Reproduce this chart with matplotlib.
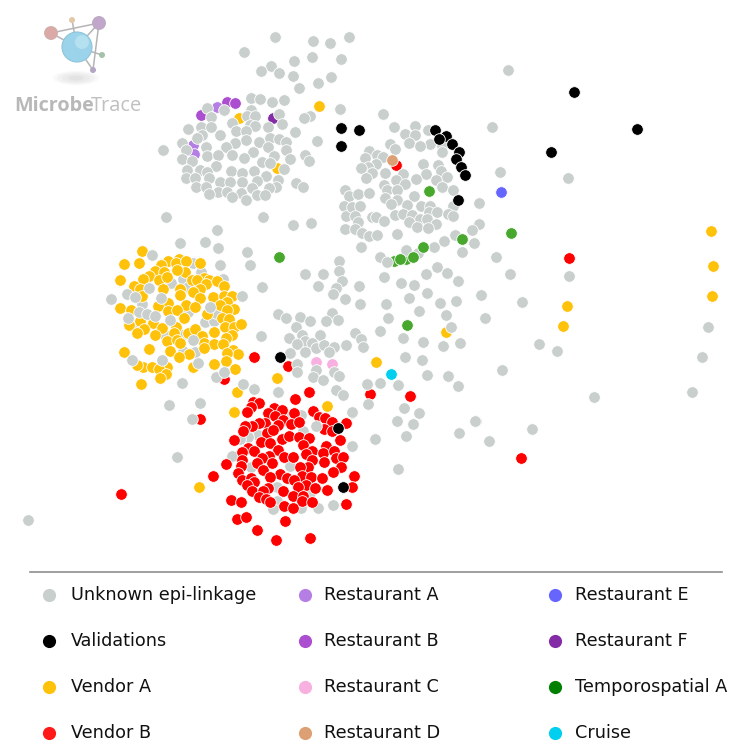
import matplotlib
matplotlib.use("Agg")
import matplotlib.pyplot as plt
from matplotlib.patches import Circle, Ellipse
import numpy as np

# node positions
unknown_under = [
  (183, 351), (195, 352), (188, 312), (165, 335), (182, 335), (193, 263), (201, 272),
  (223, 279), (183, 279), (171, 283), (188, 287), (205, 322), (214, 321), (216, 313), (142, 304),
  (135, 326), (303, 431), (301, 415), (290, 415), (258, 435), (248, 437), (240, 439), (251, 467),
  (277, 487), (310, 493), (277, 501), (273, 509), (301, 508), (318, 508), (333, 505), (232, 456),
  (290, 466),
]
unknown = [
  (275, 37), (313, 41), (330, 43), (349, 37), (244, 52), (312, 57), (341, 59), (294, 61), (271, 66),
  (261, 71), (279, 73), (293, 76), (331, 77), (318, 83), (299, 88), (251, 98), (260, 99), (272, 102),
  (284, 100), (207, 108), (224, 110), (251, 110), (340, 109), (279, 114), (211, 117), (247, 116),
  (255, 116), (310, 116), (304, 118), (232, 123), (282, 124), (250, 125), (255, 126), (268, 127),
  (201, 127), (211, 127), (188, 129), (236, 131), (246, 131), (295, 132), (220, 135), (202, 135),
  (197, 138), (270, 138), (279, 139), (246, 140), (317, 141), (286, 142), (182, 143), (235, 143),
  (259, 142), (163, 150), (186, 150), (206, 147), (226, 147), (268, 147), (286, 150), (253, 152),
  (305, 155), (207, 156), (218, 155), (232, 155), (244, 158), (274, 156), (290, 159), (182, 159),
  (192, 161), (309, 161), (262, 162), (270, 163), (216, 166), (284, 169), (187, 170), (200, 170),
  (207, 172), (231, 171), (242, 173), (254, 171), (266, 176), (186, 178), (195, 178), (209, 178),
  (257, 181), (278, 180), (220, 182), (230, 182), (242, 182), (296, 183), (196, 187), (206, 187),
  (303, 187), (252, 188), (276, 187), (269, 188), (345, 190), (218, 192), (227, 192), (241, 193),
  (209, 194), (257, 195), (265, 195), (232, 197), (246, 200), (349, 196), (344, 206), (166, 217),
  (263, 217), (346, 216), (293, 225), (311, 223),
  (383, 114), (394, 127), (415, 126), (405, 134), (415, 135), (428, 130), (492, 127), (409, 143),
  (390, 144), (430, 144), (420, 146), (395, 149), (442, 146), (442, 152), (369, 151), (365, 158),
  (377, 155), (383, 157), (376, 164), (368, 167), (361, 168), (385, 173), (372, 173), (366, 178),
  (423, 164), (438, 165), (441, 171), (426, 174), (403, 174), (447, 177), (396, 180), (436, 180),
  (416, 179), (500, 172), (405, 184), (384, 185), (442, 187), (453, 190), (387, 190), (397, 190),
  (358, 194), (369, 193), (385, 198), (414, 196), (397, 200), (391, 204), (479, 203), (352, 207),
  (360, 206), (407, 205), (421, 206), (430, 206), (453, 206), (429, 212), (437, 212), (355, 216),
  (372, 217), (376, 217), (395, 215), (403, 214), (412, 215), (448, 214), (453, 216), (420, 219),
  (427, 219), (358, 222), (384, 221), (409, 222), (345, 229), (436, 224), (417, 227), (428, 228),
  (479, 224), (355, 229), (362, 233), (369, 236), (377, 235), (397, 234), (472, 230), (455, 235),
  (444, 241), (474, 243), (434, 247), (361, 247), (496, 257), (462, 252), (406, 250), (380, 257),
  (387, 262), (418, 253), (339, 261), (339, 271), (323, 274), (305, 274), (437, 267), (426, 274),
  (447, 273), (510, 274), (384, 277), (458, 281), (342, 281), (401, 283), (414, 285), (359, 286),
  (336, 288), (333, 294), (427, 293), (409, 298), (481, 295), (345, 299), (440, 303), (456, 301),
  (360, 304), (386, 304), (522, 302), (419, 311), (318, 286), (262, 287), (508, 70), (568, 178),
  (569, 276), (708, 327), (702, 357), (692, 392), (485, 318), (446, 315), (451, 327), (460, 343),
  (443, 346), (539, 344), (557, 351), (502, 370), (448, 376), (458, 386), (594, 397), (476, 421),
  (459, 433), (532, 429), (489, 441), (332, 313), (278, 314), (286, 318), (300, 317), (310, 321),
  (326, 321), (338, 320), (388, 318), (296, 327), (380, 331), (302, 335), (320, 335), (355, 333),
  (361, 339), (403, 338), (289, 338), (305, 341), (312, 343), (297, 344), (316, 348), (324, 345),
  (334, 347), (329, 352), (346, 345), (363, 347), (423, 342), (290, 353), (305, 352), (405, 357),
  (422, 360), (427, 375), (297, 364), (297, 372), (316, 370), (334, 372), (339, 376), (313, 377),
  (323, 380), (254, 389), (367, 384), (380, 383), (398, 385), (278, 392), (336, 390), (343, 395),
  (368, 404), (404, 408), (352, 413), (419, 413), (397, 421), (413, 424), (406, 436), (375, 439),
  (352, 446), (398, 469), (475, 421), (28, 520), (180, 243), (205, 242), (218, 248), (217, 230),
  (247, 252), (220, 265), (250, 265), (152, 255), (242, 296), (111, 299), (261, 336), (182, 383),
  (216, 377), (224, 372), (243, 384), (132, 360), (162, 360), (198, 363), (149, 288), (127, 294),
  (135, 297), (161, 298), (139, 312), (147, 314), (155, 316), (128, 318), (170, 320), (210, 307),
  (193, 340), (169, 405), (200, 403), (192, 419), (177, 457), (316, 426), (352, 412),
]
vendor_a = [
  (142, 251), (124, 264), (139, 263), (120, 280), (168, 261), (179, 259), (161, 265), (176, 263),
  (186, 261), (200, 263), (155, 271), (185, 272), (177, 270), (164, 272), (149, 276), (159, 280),
  (167, 277), (143, 279), (134, 286), (192, 280), (204, 278), (209, 280), (197, 280), (206, 284),
  (217, 281), (224, 286), (163, 289), (180, 289), (200, 289), (193, 292), (140, 289), (142, 296),
  (180, 295), (200, 298), (213, 297), (224, 296), (232, 296), (227, 302), (220, 305), (234, 309),
  (227, 310), (168, 303), (158, 306), (186, 305), (195, 307), (120, 308), (131, 310), (168, 311),
  (177, 310), (207, 314), (184, 318), (222, 318), (229, 319), (140, 321), (129, 325), (153, 323),
  (144, 329), (137, 333), (162, 328), (155, 335), (176, 327), (174, 333), (188, 333), (195, 329),
  (202, 336), (214, 332), (225, 327), (234, 327), (241, 324), (232, 335), (226, 338), (167, 341),
  (177, 340), (180, 343), (204, 343), (214, 344), (223, 344), (204, 348), (149, 349), (124, 352),
  (170, 351), (189, 354), (179, 357), (233, 350), (238, 354), (227, 353), (226, 361), (214, 364),
  (235, 369), (193, 367), (143, 367), (137, 365), (152, 367), (167, 367), (159, 369), (166, 374),
  (160, 378), (141, 384), (237, 392), (234, 412), (327, 406), (199, 487), (376, 362), (277, 378),
  (446, 332), (567, 306), (563, 326), (711, 231), (713, 266), (712, 296), (319, 106), (239, 118),
  (277, 168),
]
vendor_b = [
  (253, 402), (259, 403), (251, 407), (247, 412), (274, 408), (282, 410), (268, 413), (275, 416),
  (294, 413), (313, 411), (319, 417), (325, 418), (332, 422), (346, 423), (283, 420), (291, 424),
  (299, 422), (278, 425), (265, 423), (259, 423), (252, 426), (245, 426), (243, 431), (267, 433),
  (273, 430), (324, 429), (332, 431), (234, 440), (340, 440), (261, 442), (270, 443), (282, 439),
  (289, 436), (299, 437), (309, 438), (303, 445), (326, 446), (248, 448), (242, 452), (254, 451),
  (278, 450), (312, 451), (323, 453), (334, 451), (306, 454), (269, 456), (262, 458), (242, 460),
  (284, 457), (293, 457), (336, 458), (343, 457), (312, 460), (324, 462), (272, 463), (226, 464),
  (257, 463), (241, 466), (263, 470), (308, 467), (300, 467), (341, 467), (238, 473), (280, 474),
  (287, 478), (333, 472), (270, 477), (302, 476), (311, 477), (322, 478), (354, 476), (213, 476),
  (242, 480), (251, 478), (254, 482), (247, 485), (294, 480), (306, 485), (298, 487), (315, 488),
  (352, 487), (268, 488), (252, 491), (263, 491), (283, 491), (327, 490), (259, 497), (266, 499),
  (293, 496), (303, 496), (231, 500), (241, 502), (270, 502), (302, 501), (312, 502), (284, 506),
  (293, 508), (346, 504), (237, 519), (246, 517), (285, 521), (257, 530), (276, 540), (310, 538),
  (200, 419), (309, 392), (295, 399), (121, 494), (521, 458), (569, 258), (370, 394), (410, 396),
  (254, 357), (288, 366), (224, 379), (396, 165),
]
validations = [
  (341, 128), (359, 130), (341, 146), (435, 130), (446, 136), (439, 139), (452, 144), (459, 152),
  (456, 159), (461, 167), (465, 175), (458, 200), (574, 92), (637, 129), (551, 152), (280, 357),
  (338, 428), (343, 487),
]
restaurant_a = [(217, 107), (193, 145), (194, 154)]
restaurant_b = [(201, 115), (227, 102), (235, 103)]
restaurant_c = [(316, 362), (332, 364)]
restaurant_d = [(392, 160)]
restaurant_e = [(501, 192)]
restaurant_f = [(273, 118)]
temporospatial_a = [
  (429, 191), (462, 239), (511, 233), (423, 247), (413, 257), (400, 259), (279, 257), (407, 325),
]
# the two half hidden green nodes in the chain, under the gray ones
temporospatial_under = [(394, 261), (406, 259)]
cruise = [(391, 374)]

legend_names = [
  "Unknown epi-linkage", "Validations", "Vendor A", "Vendor B",
  "Restaurant A", "Restaurant B", "Restaurant C", "Restaurant D",
  "Restaurant E", "Restaurant F", "Temporospatial A", "Cruise",
]
legend_colors = [
  "#c8cfcc", "#000000", "#ffc20a", "#ff1a1a",
  "#b57ee5", "#ab4ecf", "#f7b0e0", "#dda074",
  "#6666ff", "#832ca6", "#007f00", "#00cfef",
]

GRAY = "#c8cfcc"

def nodes(ax, pts, color, z):
  pts = np.array(pts)
  ax.scatter(pts[:, 0], pts[:, 1], s=70, c=color, edgecolors="white", linewidths=0.6, zorder=z)

def drawLogo(ax):
  for r, a in [(23, 0.05), (19, 0.07), (14, 0.08), (8, 0.09)]:
    ax.add_patch(Ellipse((76, 78), r * 2, r * 0.62, color="#999999", alpha=a, lw=0, zorder=1))
  hub = [(51, 33), (99, 23), (77, 47), (93, 70), (102, 55), (72, 20)]
  for i, j in [(0, 1), (0, 2), (1, 2), (1, 3), (2, 3), (2, 4), (2, 5)]:
    ax.plot([hub[i][0], hub[j][0]], [hub[i][1], hub[j][1]], color="#b5b5b8", lw=1.1, zorder=2)
  ax.add_patch(Circle(hub[0], 6.5, fc="#dba9a6", ec="#cbb0ae", lw=0.6, zorder=3))
  ax.add_patch(Circle(hub[1], 6.5, fc="#c0a7cb", ec="#b7a9bd", lw=0.6, zorder=3))
  ax.add_patch(Circle(hub[2], 15, fc="#9bd4ea", ec="#8fc4d8", lw=0.8, zorder=3))
  ax.add_patch(Circle((82, 42), 7, fc="#b4e0f0", lw=0, zorder=3))
  ax.add_patch(Circle(hub[3], 3, fc="#b3a5c4", lw=0, zorder=3))
  ax.add_patch(Circle(hub[4], 3, fc="#a3c2a8", lw=0, zorder=3))
  ax.add_patch(Circle(hub[5], 3, fc="#e2c7a8", lw=0, zorder=3))
  ax.text(14.5, 111, "Microbe", family="Open Sans", weight="bold", size=14.2, color="#b8b8b8", va="baseline")
  ax.text(90.5, 111, "Trace", family="Open Sans", size=14.4, color="#c0c0c0", va="baseline")

fig = plt.figure(figsize=(7.5, 7.54), dpi=100)
ax = fig.add_axes([0, 0, 1, 1])
ax.set_xlim(0, 750)
ax.set_ylim(754, 0)
ax.axis("off")

drawLogo(ax)

nodes(ax, unknown_under, GRAY, 4)
nodes(ax, vendor_a, "#ffc20a", 5)
nodes(ax, vendor_b, "#ff0000", 5)
nodes(ax, temporospatial_under, "#48a82d", 5)
nodes(ax, restaurant_a, "#b57ee5", 5)
nodes(ax, restaurant_b, "#ab4ecf", 5)
nodes(ax, restaurant_c, "#f7b0e0", 5)
nodes(ax, restaurant_e, "#6666ff", 5)
nodes(ax, restaurant_f, "#832ca6", 5)
nodes(ax, cruise, "#00cfef", 5)
nodes(ax, unknown, GRAY, 6)
nodes(ax, temporospatial_a, "#48a82d", 7)
nodes(ax, restaurant_d, "#dda074", 7)
nodes(ax, validations, "#000000", 7)

ax.plot([30, 722], [572, 572], color="#8f8f8f", lw=1.2)

leg_x = [49, 305, 555]
txt_x = [71, 324, 575]
leg_y = [595, 641, 687, 733]
for i, name in enumerate(legend_names):
  col = i // 4
  row = i % 4
  ax.scatter(leg_x[col], leg_y[row], s=90, c=legend_colors[i], linewidths=0)
  ax.text(txt_x[col], leg_y[row], name, size=12.7, color="#111111", va="center", family="DejaVu Sans")

plt.savefig("out.png", dpi=100)
